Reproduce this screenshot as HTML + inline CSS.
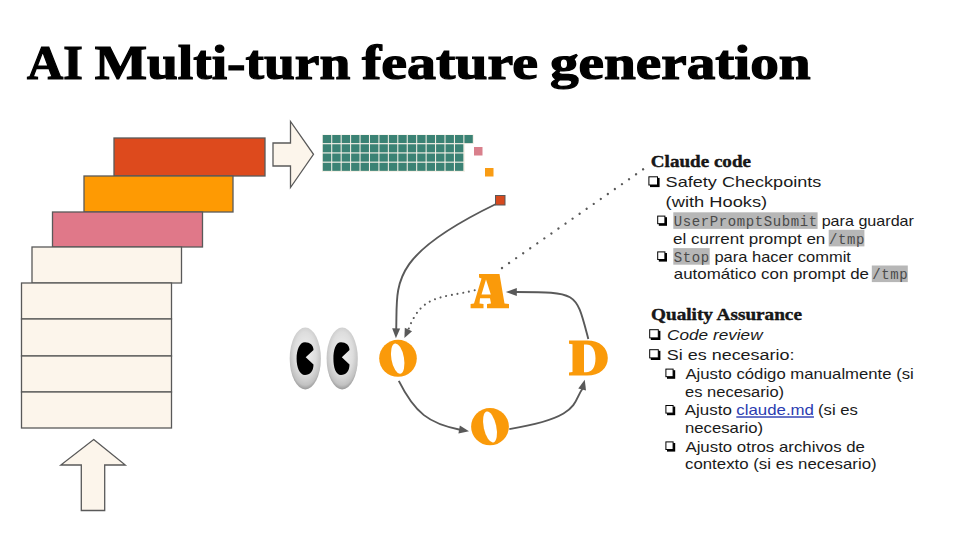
<!DOCTYPE html>
<html><head><meta charset="utf-8">
<style>
html,body{margin:0;padding:0;background:#fff;}
body{width:960px;height:540px;position:relative;overflow:hidden;font-family:"Liberation Sans",sans-serif;}
svg{position:absolute;left:0;top:0;}
</style></head><body>
<svg width="960" height="540" viewBox="0 0 960 540">
  <defs>
    <radialGradient id="eg" cx="0.5" cy="0.42" r="0.58">
      <stop offset="0" stop-color="#f2f2f2"/>
      <stop offset="0.6" stop-color="#dddddd"/>
      <stop offset="0.88" stop-color="#c2c2c2"/>
      <stop offset="1" stop-color="#9a9a9a"/>
    </radialGradient>
  </defs>
  <text transform="translate(27.00,79.4) scale(1.0472,1)" font-family="Liberation Serif" font-weight="bold" font-size="48" fill="#000" stroke="#000" stroke-width="1.2">AI</text>
<text transform="translate(94.70,79.4) scale(1.1552,1)" font-family="Liberation Serif" font-weight="bold" font-size="48" fill="#000" stroke="#000" stroke-width="1.2">Multi-turn</text>
<text transform="translate(362.00,79.4) scale(1.2083,1)" font-family="Liberation Serif" font-weight="bold" font-size="48" fill="#000" stroke="#000" stroke-width="1.2">feature</text>
<text transform="translate(550.00,79.4) scale(1.1927,1)" font-family="Liberation Serif" font-weight="bold" font-size="48" fill="#000" stroke="#000" stroke-width="1.2">generation</text>
  <!-- stairs -->
  <g stroke="#595959" stroke-width="1.3">
    <rect x="114" y="138" width="151" height="38" fill="#dd4a1d"/>
    <rect x="84" y="176" width="149" height="36" fill="#fe9a03"/>
    <rect x="52.5" y="212" width="150" height="35" fill="#e07889"/>
    <rect x="32" y="247" width="149.5" height="36" fill="#fcf5eb"/>
    <rect x="21.5" y="283" width="150" height="36" fill="#fcf5eb"/>
    <rect x="21.5" y="319" width="150" height="37" fill="#fcf5eb"/>
    <rect x="21.5" y="356" width="150" height="36" fill="#fcf5eb"/>
    <rect x="21.5" y="392" width="150" height="36" fill="#fcf5eb"/>
    <path d="M273,143 L290.5,143 L290.5,121.5 L313.5,154.3 L290.5,187.5 L290.5,166 L273,166 Z" fill="#fcf5eb"/>
    <path d="M93.7,439.5 L125.3,465 L104.7,465 L104.7,510.5 L81.3,510.5 L81.3,465 L60.8,465 Z" fill="#fcf5eb"/>
  </g>
  <g fill="#3b8274"><path d="M322,134.5 H474 V144 H465 V172 H322 Z" fill="#f6f1e8"/><rect x="322.80" y="135.00" width="8.4" height="8.1"/><rect x="332.24" y="135.00" width="8.4" height="8.1"/><rect x="341.68" y="135.00" width="8.4" height="8.1"/><rect x="351.12" y="135.00" width="8.4" height="8.1"/><rect x="360.56" y="135.00" width="8.4" height="8.1"/><rect x="370.00" y="135.00" width="8.4" height="8.1"/><rect x="379.44" y="135.00" width="8.4" height="8.1"/><rect x="388.88" y="135.00" width="8.4" height="8.1"/><rect x="398.32" y="135.00" width="8.4" height="8.1"/><rect x="407.76" y="135.00" width="8.4" height="8.1"/><rect x="417.20" y="135.00" width="8.4" height="8.1"/><rect x="426.64" y="135.00" width="8.4" height="8.1"/><rect x="436.08" y="135.00" width="8.4" height="8.1"/><rect x="445.52" y="135.00" width="8.4" height="8.1"/><rect x="454.96" y="135.00" width="8.4" height="8.1"/><rect x="464.40" y="135.00" width="8.4" height="8.1"/><rect x="322.80" y="144.25" width="8.4" height="8.1"/><rect x="332.24" y="144.25" width="8.4" height="8.1"/><rect x="341.68" y="144.25" width="8.4" height="8.1"/><rect x="351.12" y="144.25" width="8.4" height="8.1"/><rect x="360.56" y="144.25" width="8.4" height="8.1"/><rect x="370.00" y="144.25" width="8.4" height="8.1"/><rect x="379.44" y="144.25" width="8.4" height="8.1"/><rect x="388.88" y="144.25" width="8.4" height="8.1"/><rect x="398.32" y="144.25" width="8.4" height="8.1"/><rect x="407.76" y="144.25" width="8.4" height="8.1"/><rect x="417.20" y="144.25" width="8.4" height="8.1"/><rect x="426.64" y="144.25" width="8.4" height="8.1"/><rect x="436.08" y="144.25" width="8.4" height="8.1"/><rect x="445.52" y="144.25" width="8.4" height="8.1"/><rect x="454.96" y="144.25" width="8.4" height="8.1"/><rect x="322.80" y="153.50" width="8.4" height="8.1"/><rect x="332.24" y="153.50" width="8.4" height="8.1"/><rect x="341.68" y="153.50" width="8.4" height="8.1"/><rect x="351.12" y="153.50" width="8.4" height="8.1"/><rect x="360.56" y="153.50" width="8.4" height="8.1"/><rect x="370.00" y="153.50" width="8.4" height="8.1"/><rect x="379.44" y="153.50" width="8.4" height="8.1"/><rect x="388.88" y="153.50" width="8.4" height="8.1"/><rect x="398.32" y="153.50" width="8.4" height="8.1"/><rect x="407.76" y="153.50" width="8.4" height="8.1"/><rect x="417.20" y="153.50" width="8.4" height="8.1"/><rect x="426.64" y="153.50" width="8.4" height="8.1"/><rect x="436.08" y="153.50" width="8.4" height="8.1"/><rect x="445.52" y="153.50" width="8.4" height="8.1"/><rect x="454.96" y="153.50" width="8.4" height="8.1"/><rect x="322.80" y="162.75" width="8.4" height="8.1"/><rect x="332.24" y="162.75" width="8.4" height="8.1"/><rect x="341.68" y="162.75" width="8.4" height="8.1"/><rect x="351.12" y="162.75" width="8.4" height="8.1"/><rect x="360.56" y="162.75" width="8.4" height="8.1"/><rect x="370.00" y="162.75" width="8.4" height="8.1"/><rect x="379.44" y="162.75" width="8.4" height="8.1"/><rect x="388.88" y="162.75" width="8.4" height="8.1"/><rect x="398.32" y="162.75" width="8.4" height="8.1"/><rect x="407.76" y="162.75" width="8.4" height="8.1"/><rect x="417.20" y="162.75" width="8.4" height="8.1"/><rect x="426.64" y="162.75" width="8.4" height="8.1"/><rect x="436.08" y="162.75" width="8.4" height="8.1"/><rect x="445.52" y="162.75" width="8.4" height="8.1"/><rect x="454.96" y="162.75" width="8.4" height="8.1"/></g>
  <rect x="474" y="147" width="8.5" height="8.5" fill="#d9808c"/>
  <rect x="485" y="168" width="8.5" height="8.5" fill="#f99c14"/>
  <rect x="495.5" y="195.5" width="9.5" height="9.5" fill="#d6491e" stroke="#595959" stroke-width="1"/>
  <g fill="none" stroke="#595959" stroke-width="1.9">
<path d="M496,204 C387.5,256.6 397.6,283.2 396.2,330"/>
<path d="M398.8,380.9 C414.8,413.1 429.3,423.7 460,429.7"/>
<path d="M509.3,429.1 C582.2,417.0 572.1,402.0 583,388"/>
<path d="M588.3,339.0 C575.9,292.0 578.4,292.1 516,292.0"/>
</g>
<g fill="none" stroke="#595959" stroke-width="2.3" stroke-dasharray="0.01 8.6" stroke-linecap="round"><path d="M502,268 L645,168"/></g>
<g fill="none" stroke="#595959" stroke-width="2.1" stroke-dasharray="0.01 5.8" stroke-linecap="round"><path d="M474.7,290.3 C440.9,298.3 421.9,294.4 408.7,328.7"/></g>
<g fill="#595959">
<path d="M395.90,338.30 L392.17,328.19 L400.17,328.41 Z"/>
<path d="M404.40,338.10 L404.81,327.80 L412.05,331.20 Z"/>
<path d="M469.00,431.30 L458.45,433.48 L459.86,425.60 Z"/>
<path d="M584.70,379.80 L586.03,390.49 L578.29,388.46 Z"/>
<path d="M505.80,292.00 L516.80,288.00 L516.80,296.00 Z"/>
</g>
  <!-- letters -->
  <g fill="#fa9a0a">
    <ellipse cx="398" cy="358.3" rx="18.8" ry="18.5"/>
    <ellipse cx="490" cy="426.7" rx="18.9" ry="18.6"/>
    <path fill-rule="evenodd" d="M569,340.6 L587,340.6 C600,340.6 607.8,348 607.8,358 C607.8,368 600,375.6 587,375.6 L569,375.6 L569,372.5 L572.5,372 L572.5,344.2 L569,343.7 Z M584,344.4 L586,344.4 C592,344.4 595.5,349 595.5,358.3 C595.5,367.5 592,372.2 586,372.2 L584,372.2 Z"/>
    <path fill-rule="evenodd" d="M479,273.9 L499.5,273.9 L504.5,303.5 L509,304 L509,308.3 L487,308.3 L487,304 L491,303.5 L490,298.3 L480,298.3 L479.5,303.5 L483.5,304 L483.5,308.3 L470.6,308.3 L470.6,304 L474,303.5 L481.5,278.5 L479,277.5 Z M486,279.4 L490.8,294.4 L481.5,294.4 Z"/>
  </g>
  <g fill="#fff">
    <ellipse cx="0" cy="0" rx="6.3" ry="15.4" transform="translate(397.7,358.6) rotate(-10)"/>
    <ellipse cx="0" cy="0" rx="6.3" ry="15.8" transform="translate(490,427) rotate(-12)"/>
  </g>
  <!-- eyes -->
  <g>
    <ellipse cx="305.3" cy="358.5" rx="15.6" ry="30.9" fill="url(#eg)"/>
    <ellipse cx="342.2" cy="358.5" rx="15.6" ry="30.9" fill="url(#eg)"/>
    <path d="M313.5,350 C313.5,345 310,342.2 305,342.2 C299.5,342.2 296.6,350 296.6,358.5 C296.6,367 299.5,375 305,375 C310,375 313.5,371 313.5,364.5 L305.7,357.3 Z" fill="#000"/>
    <path d="M349.5,350 C349.5,345 346,342.2 341,342.2 C335.5,342.2 333.4,350 333.4,358.5 C333.4,367 335.5,375 341,375 C346,375 349.5,371 349.5,364.5 L341.8,357.3 Z" fill="#000"/>
  </g>
  <text transform="translate(652.00,167.10) scale(1.1566,1)" x="-1" y="0" font-family="Liberation Serif" font-size="16.5" font-weight="bold" font-style="normal" fill="#1a1a1a" stroke="#000" stroke-width="0.35">Claude code</text>
<text transform="translate(652.20,320.30) scale(1.1636,1)" x="-1" y="0" font-family="Liberation Serif" font-size="16.5" font-weight="bold" font-style="normal" fill="#1a1a1a" stroke="#000" stroke-width="0.35">Quality Assurance</text>
<text transform="translate(666.80,186.70) scale(1.2052,1)" x="-1" y="0" font-family="Liberation Sans" font-size="15" font-weight="normal" font-style="normal" fill="#1a1a1a" >Safety Checkpoints</text>
<text transform="translate(666.80,206.50) scale(1.2200,1)" x="-1" y="0" font-family="Liberation Sans" font-size="15" font-weight="normal" font-style="normal" fill="#1a1a1a" >(with Hooks)</text>
<text transform="translate(668.20,339.80) scale(1.1467,1)" x="-1" y="0" font-family="Liberation Sans" font-size="15" font-weight="normal" font-style="italic" fill="#1a1a1a" >Code review</text>
<text transform="translate(667.90,359.70) scale(1.1983,1)" x="-1" y="0" font-family="Liberation Sans" font-size="15" font-weight="normal" font-style="normal" fill="#1a1a1a" >Si es necesario:</text>
<text transform="translate(822.80,226.00) scale(1.1521,1)" x="-1" y="0" font-family="Liberation Sans" font-size="14" font-weight="normal" font-style="normal" fill="#1a1a1a" >para guardar</text>
<text transform="translate(674.20,243.50) scale(1.2171,1)" x="-1" y="0" font-family="Liberation Sans" font-size="14" font-weight="normal" font-style="normal" fill="#1a1a1a" >el current prompt en</text>
<text transform="translate(715.60,261.80) scale(1.1780,1)" x="-1" y="0" font-family="Liberation Sans" font-size="14" font-weight="normal" font-style="normal" fill="#1a1a1a" >para hacer commit</text>
<text transform="translate(675.00,279.20) scale(1.2069,1)" x="-1" y="0" font-family="Liberation Sans" font-size="14" font-weight="normal" font-style="normal" fill="#1a1a1a" >automático con prompt de</text>
<text transform="translate(686.60,379.00) scale(1.1938,1)" x="-1" y="0" font-family="Liberation Sans" font-size="14" font-weight="normal" font-style="normal" fill="#1a1a1a" >Ajusto código manualmente (si</text>
<text transform="translate(686.20,397.30) scale(1.1791,1)" x="-1" y="0" font-family="Liberation Sans" font-size="14" font-weight="normal" font-style="normal" fill="#1a1a1a" >es necesario)</text>
<text transform="translate(686.60,451.80) scale(1.2033,1)" x="-1" y="0" font-family="Liberation Sans" font-size="14" font-weight="normal" font-style="normal" fill="#1a1a1a" >Ajusto otros archivos de</text>
<text transform="translate(686.20,469.30) scale(1.2016,1)" x="-1" y="0" font-family="Liberation Sans" font-size="14" font-weight="normal" font-style="normal" fill="#1a1a1a" >contexto (si es necesario)</text>
<text transform="translate(686.20,432.90) scale(1.1951,1)" x="-1" y="0" font-family="Liberation Sans" font-size="14" font-weight="normal" font-style="normal" fill="#1a1a1a" >necesario)</text>
<text transform="translate(686.00,415.40) scale(1.2105,1)" x="-1" y="0" font-family="Liberation Sans" font-size="14" font-weight="normal" font-style="normal" fill="#1a1a1a" >Ajusto</text>
<text transform="translate(737.50,415.40) scale(1.2032,1)" x="-1" y="0" font-family="Liberation Sans" font-size="14" font-weight="normal" font-style="normal" fill="#2a3bb0" text-decoration="underline">claude.md</text>
<text transform="translate(819.20,415.40) scale(1.1938,1)" x="-1" y="0" font-family="Liberation Sans" font-size="14" font-weight="normal" font-style="normal" fill="#1a1a1a" >(si es</text>
<rect x="673.30" y="212.30" width="144.30" height="16.6" fill="#b7b7b7"/>
<text x="673.70" y="226.00" font-family="Liberation Mono" font-size="14" fill="#4a4a4a" style="letter-spacing:0.6px">UserPromptSubmit</text>
<rect x="828.70" y="229.80" width="35.70" height="16.6" fill="#b7b7b7"/>
<text x="829.10" y="243.50" font-family="Liberation Mono" font-size="14" fill="#4a4a4a" style="letter-spacing:0.6px">/tmp</text>
<rect x="673.30" y="248.10" width="36.40" height="16.6" fill="#b7b7b7"/>
<text x="673.70" y="261.80" font-family="Liberation Mono" font-size="14" fill="#4a4a4a" style="letter-spacing:0.6px">Stop</text>
<rect x="871.80" y="265.50" width="36.00" height="16.6" fill="#b7b7b7"/>
<text x="872.20" y="279.20" font-family="Liberation Mono" font-size="14" fill="#4a4a4a" style="letter-spacing:0.6px">/tmp</text>
<rect x="650.00" y="177.90" width="9.60" height="9.20" fill="#000"/>
<rect x="648.90" y="176.80" width="8.60" height="8.20" fill="#fff" stroke="#000" stroke-width="1"/>
<rect x="650.80" y="330.80" width="9.60" height="9.20" fill="#000"/>
<rect x="649.70" y="329.70" width="8.60" height="8.20" fill="#fff" stroke="#000" stroke-width="1"/>
<rect x="650.80" y="350.80" width="9.60" height="9.20" fill="#000"/>
<rect x="649.70" y="349.70" width="8.60" height="8.20" fill="#fff" stroke="#000" stroke-width="1"/>
<rect x="658.80" y="217.20" width="8.20" height="8.60" fill="#000"/>
<rect x="657.70" y="216.10" width="7.20" height="7.60" fill="#fff" stroke="#000" stroke-width="1"/>
<rect x="658.80" y="253.00" width="8.20" height="8.60" fill="#000"/>
<rect x="657.70" y="251.90" width="7.20" height="7.60" fill="#fff" stroke="#000" stroke-width="1"/>
<rect x="667.00" y="370.20" width="8.20" height="8.60" fill="#000"/>
<rect x="665.90" y="369.10" width="7.20" height="7.60" fill="#fff" stroke="#000" stroke-width="1"/>
<rect x="667.00" y="406.60" width="8.20" height="8.60" fill="#000"/>
<rect x="665.90" y="405.50" width="7.20" height="7.60" fill="#fff" stroke="#000" stroke-width="1"/>
<rect x="667.00" y="443.00" width="8.20" height="8.60" fill="#000"/>
<rect x="665.90" y="441.90" width="7.20" height="7.60" fill="#fff" stroke="#000" stroke-width="1"/>
</svg>
</body></html>
